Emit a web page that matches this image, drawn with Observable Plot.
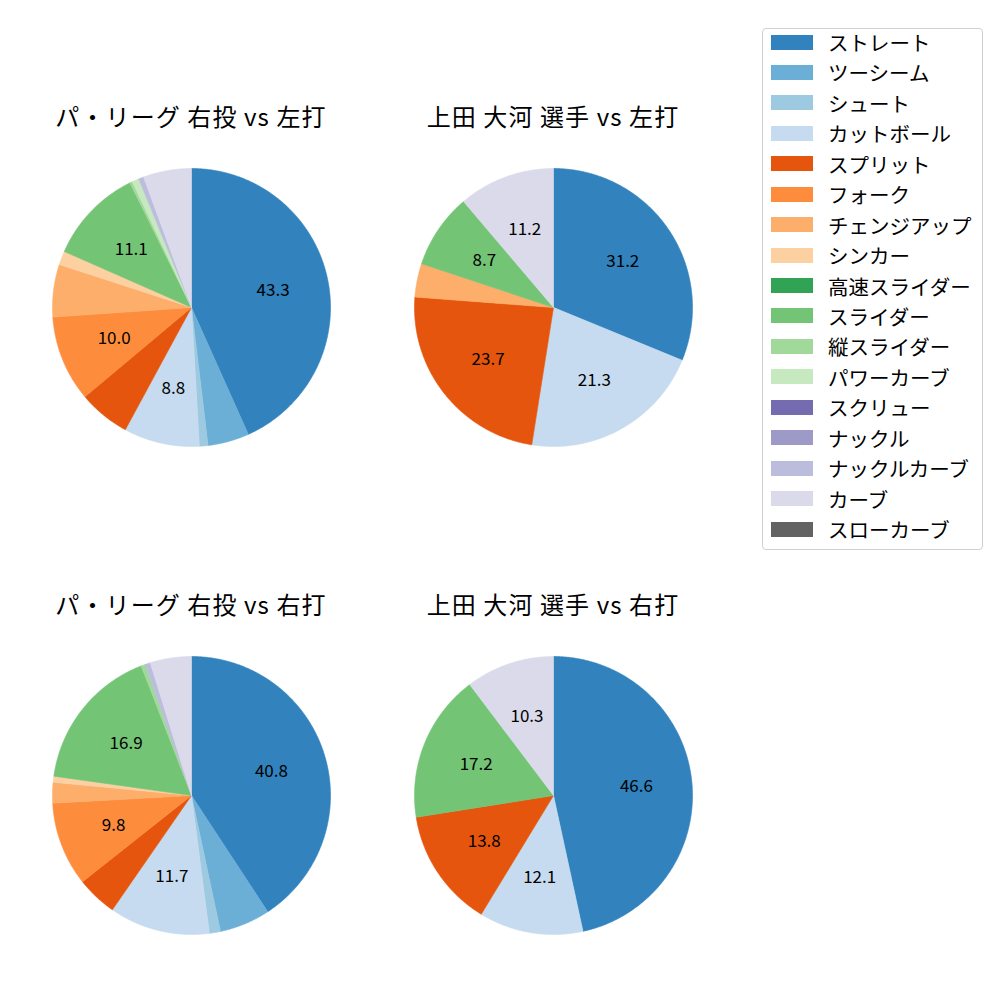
<!DOCTYPE html>
<html>
<head>
<meta charset="utf-8">
<script src="https://cdn.jsdelivr.net/npm/d3@7"></script>
<script src="https://cdn.jsdelivr.net/npm/@observablehq/plot@0.6"></script>
<style>
  html, body { margin: 0; padding: 0; background: #fff; }
  body { width: 1000px; height: 1000px; position: relative; overflow: hidden;
         font-family: "Noto Sans CJK JP", "Noto Sans", sans-serif; color: #000; }
  .pie { position: absolute; }
  .title { position: absolute; width: 400px; text-align: center; font-size: 24px; letter-spacing: 1.1px; line-height: 30px; white-space: nowrap; }
  #legend { position: absolute; left: 762px; top: 28px; width: 221px; height: 522px;
            border: 1px solid #d0d0d0; border-radius: 4px; box-sizing: border-box; background: #fff; }
  .item { position: absolute; left: 8px; height: 20px; display: flex; align-items: center; font-size: 20.5px; }
  .sw { width: 42px; height: 15px; margin-right: 15px; }
</style>
</head>
<body>
<div id="root"></div>
<div id="legend"></div>
<script>
// ---- data ----
const pitchTypes = ["ストレート","ツーシーム","シュート","カットボール","スプリット","フォーク","チェンジアップ","シンカー","高速スライダー","スライダー","縦スライダー","パワーカーブ","スクリュー","ナックル","ナックルカーブ","カーブ","スローカーブ"];
const pitchColors = ["#3182bd","#6baed6","#9ecae1","#c6dbef","#e6550d","#fd8d3c","#fdae6b","#fdd0a2","#31a354","#74c476","#a1d99b","#c7e9c0","#756bb1","#9e9ac8","#bcbddc","#dadaeb","#636363"];

const titles = ["パ・リーグ 右投 vs 左打", "上田 大河 選手 vs 左打", "パ・リーグ 右投 vs 右打", "上田 大河 選手 vs 右打"];

// values in pitchTypes order
const leagueVsLeft  = [43.3, 4.8, 1.0, 8.8, 6.0, 10.0, 6.1, 1.6, 0, 11.1, 0.3, 0.8, 0, 0, 0.6, 5.6, 0];
const playerVsLeft  = [31.2, 0, 0, 21.3, 23.7, 0, 3.9, 0, 0, 8.7, 0, 0, 0, 0, 0, 11.2, 0];
const leagueVsRight = [40.8, 5.9, 1.3, 11.7, 4.7, 9.8, 2.4, 0.7, 0, 16.9, 0.5, 0, 0, 0, 0.6, 4.8, 0];
const playerVsRight = [46.6, 0, 0, 12.1, 13.8, 0, 0, 0, 0, 17.2, 0, 0, 0, 0, 0, 10.3, 0];

const panels = [
  {title: titles[0], values: leagueVsLeft,  cx: 191, cy: 307, ty: 101},
  {title: titles[1], values: playerVsLeft,  cx: 553, cy: 307, ty: 101},
  {title: titles[2], values: leagueVsRight, cx: 191, cy: 795, ty: 589},
  {title: titles[3], values: playerVsRight, cx: 553, cy: 795, ty: 589}
];

const R = 139; // pie radius in px
const M = 11;
const size = 2 * R + 2 * M;

const root = document.getElementById("root");

for (const p of panels) {
  const items = pitchTypes.map((name, i) => ({name, value: p.values[i]})).filter(d => d.value > 0);
  const arcs = d3.pie().sort(null).value(d => d.value).startAngle(0).endAngle(2 * Math.PI)(items);
  const total = d3.sum(items, d => d.value);
  const pts = [];
  for (const a of arcs) {
    const n = Math.max(2, Math.ceil((a.endAngle - a.startAngle) / 0.01));
    pts.push({key: a.data.name, x: 0, y: 0});
    for (let k = 0; k <= n; k++) {
      const t = a.startAngle + (a.endAngle - a.startAngle) * k / n;
      pts.push({key: a.data.name, x: Math.sin(t), y: Math.cos(t)});
    }
    pts.push({key: a.data.name, x: 0, y: 0});
  }
  const labels = arcs.filter(a => a.data.value / total * 100 >= 7).map(a => {
    const m = (a.startAngle + a.endAngle) / 2;
    return {x: 0.6 * Math.sin(m), y: 0.6 * Math.cos(m), text: (a.data.value / total * 100).toFixed(1)};
  });

  const chart = Plot.plot({
    width: size, height: size,
    margin: M,
    x: {domain: [-1, 1], axis: null},
    y: {domain: [-1, 1], axis: null},
    color: {domain: pitchTypes, range: pitchColors},
    style: {fontFamily: '"Noto Sans CJK JP", "Noto Sans", sans-serif', background: "transparent"},
    marks: [
      Plot.line(pts, {x: "x", y: "y", z: "key", fill: "key", stroke: "key", strokeWidth: 0.6, curve: "linear"}),
      Plot.text(labels, {x: "x", y: "y", text: "text", fontSize: 17, fill: "#000"})
    ]
  });
  chart.classList.add("pie");
  chart.style.left = (p.cx - size / 2) + "px";
  chart.style.top = (p.cy - size / 2) + "px";
  root.appendChild(chart);

  const t = document.createElement("div");
  t.className = "title";
  t.textContent = p.title;
  t.style.left = (p.cx - 200) + "px";
  t.style.top = p.ty + "px";
  root.appendChild(t);
}

// legend
const legend = document.getElementById("legend");
pitchTypes.forEach((name, i) => {
  const it = document.createElement("div");
  it.className = "item";
  it.style.top = (3 + i * 30.44) + "px";
  const sw = document.createElement("div");
  sw.className = "sw";
  sw.style.background = pitchColors[i];
  const tx = document.createElement("span");
  tx.textContent = name;
  it.appendChild(sw);
  it.appendChild(tx);
  legend.appendChild(it);
});
</script>
</body>
</html>
